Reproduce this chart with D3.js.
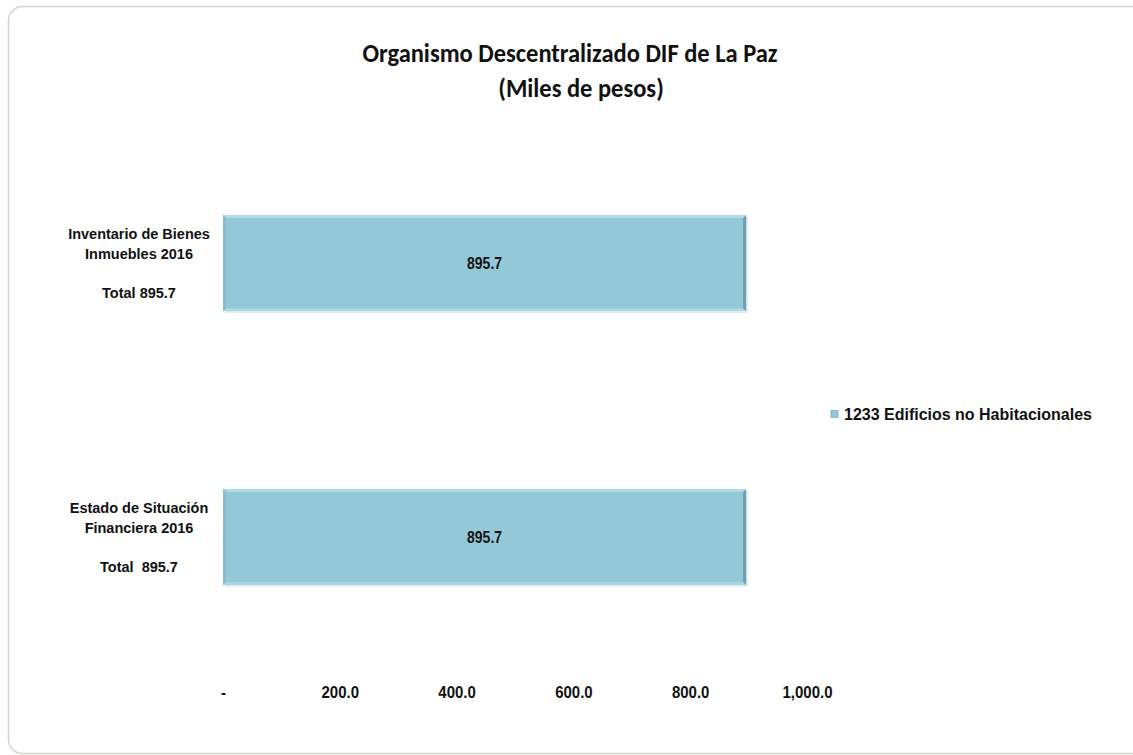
<!DOCTYPE html>
<html>
<head>
<meta charset="utf-8">
<script src="https://cdn.jsdelivr.net/npm/d3@7"></script>
<style>
  html, body { margin: 0; padding: 0; background: #ffffff; }
  svg { display: block; }
  .lbl { font-family: "Liberation Sans", Arial, sans-serif; font-weight: bold; fill: #111; }
</style>
</head>
<body>
<svg id="chart" width="1133" height="755"></svg>
<script>
// ---- data ----
const titleLines = ["Organismo Descentralizado DIF de La Paz", "(Miles de pesos)"];
const categories = ["Inventario de Bienes Inmuebles 2016", "Estado de Situación Financiera 2016"];
const categoryLabels = [
  ["Inventario de Bienes", "Inmuebles 2016", "", "Total 895.7"],
  ["Estado de Situación", "Financiera 2016", "", "Total  895.7"]
];
const seriesName = "1233 Edificios no Habitacionales";
const values = [895.7, 895.7];
const tickValues = [0, 200, 400, 600, 800, 1000];
const tickLabels = ["-", "200.0", "400.0", "600.0", "800.0", "1,000.0"];

// ---- layout ----
const svg = d3.select("#chart");

svg.append("rect")
  .attr("x", 8.5).attr("y", 6.5)
  .attr("width", 1140).attr("height", 747)
  .attr("rx", 14).attr("ry", 14)
  .attr("fill", "#ffffff").attr("stroke", "#d3d3cf").attr("stroke-width", 1.5);

const x = d3.scaleLinear().domain([0, 1000]).range([223, 807]);
const y = d3.scaleBand().domain(categories).range([126, 674])
  .paddingInner(0.65).paddingOuter(0.325);

// title
const titleX = [570, 581];
const titleY = [62, 97];
titleLines.forEach((t, i) => {
  svg.append("text")
    .attr("transform", `translate(${titleX[i]},${titleY[i]}) scale(1,1.06)`)
    .attr("text-anchor", "middle")
    .style("font-family", "Carlito, Lato, 'Open Sans', sans-serif")
    .style("font-weight", "bold")
    .style("font-size", "24.5px")
    .style("fill", "#111")
    .text(t);
});

// bars
const data = categories.map((c, i) => ({ c, v: values[i], labels: categoryLabels[i] }));
const g = svg.append("g");
const bev = 3;
const labelCx = 139;
data.forEach((d, i) => {
  const x0 = x(0), x1 = x(d.v), y0 = y(d.c), y1 = y(d.c) + y.bandwidth();
  g.append("rect").attr("x", x0 + 2).attr("y", y0 + 2).attr("width", x1 - x0).attr("height", y1 - y0)
    .attr("fill", "#e3ecee");
  g.append("rect").attr("x", x0).attr("y", y0).attr("width", x1 - x0).attr("height", y1 - y0)
    .attr("fill", "#93c9d7");
  g.append("polygon").attr("points", [[x0, y0], [x1, y0], [x1 - bev, y0 + bev], [x0 + bev, y0 + bev]].join(" "))
    .attr("fill", "#aedbe6");
  g.append("polygon").attr("points", [[x0, y1], [x1, y1], [x1 - bev, y1 - bev], [x0 + bev, y1 - bev]].join(" "))
    .attr("fill", "#a8d6e2");
  g.append("polygon").attr("points", [[x0, y0], [x0 + bev, y0 + bev], [x0 + bev, y1 - bev], [x0, y1]].join(" "))
    .attr("fill", "#86bccb");
  g.append("polygon").attr("points", [[x1, y0], [x1 - bev, y0 + bev], [x1 - bev, y1 - bev], [x1, y1]].join(" "))
    .attr("fill", "#6f9fac");
  // value label
  g.append("text").attr("class", "lbl")
    .attr("transform", `translate(${(x0 + x1) / 2},${(y0 + y1) / 2 + 6}) scale(1,1.12)`)
    .attr("text-anchor", "middle").style("font-size", "14px")
    .text(d3.format(".1f")(d.v));
  // category label
  const cy = (y0 + y1) / 2;
  const offs = [-29, -9, 0, 30];
  d.labels.forEach((t, j) => {
    if (!t) return;
    g.append("text").attr("class", "lbl")
      .attr("transform", `translate(${labelCx},${cy + offs[j] + 5}) scale(1,1.04)`)
      .attr("text-anchor", "middle").style("font-size", "14.5px")
      .style("white-space", "pre")
      .text(t);
  });
});

// x axis tick labels
const axis = d3.axisBottom(x).tickValues(tickValues)
  .tickFormat((d, i) => tickLabels[i]).tickSize(0).tickPadding(0);
const ax = svg.append("g").attr("transform", "translate(0,686)").call(axis);
ax.select(".domain").remove();
ax.selectAll("text")
  .attr("class", "lbl")
  .attr("y", 0).attr("dy", null)
  .attr("transform", "translate(0,12) scale(1,1.08)")
  .style("font-size", "15px")
  .attr("fill", "#111");

// legend
const lg = svg.append("g").attr("transform", "translate(831,414)");
lg.append("rect").attr("x", 0).attr("y", -3.5).attr("width", 7).attr("height", 7)
  .attr("fill", "#93c9d7").attr("stroke", "#7fb3c2").attr("stroke-width", 0.8);
lg.append("text").attr("class", "lbl")
  .attr("transform", "translate(13,6) scale(1,1.08)")
  .style("font-size", "16px")
  .text(seriesName);
</script>
</body>
</html>
